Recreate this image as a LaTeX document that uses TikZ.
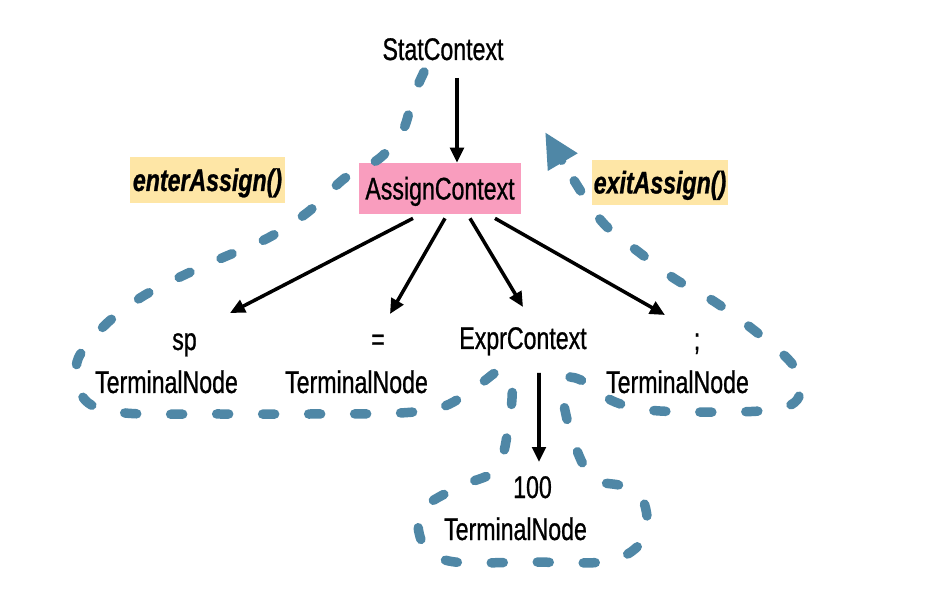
\documentclass[tikz,border=0pt]{standalone}
\usepackage{fontspec}
\setmainfont[FakeStretch=0.74,FakeBold=0.8]{Liberation Sans}
\usetikzlibrary{arrows.meta}
\definecolor{loopblue}{HTML}{4F87A6}
\definecolor{boxpink}{HTML}{F99DBE}
\definecolor{boxyellow}{HTML}{FEE6A6}
\newcommand{\lblfont}{\fontsize{17.8pt}{20pt}\selectfont}
\begin{document}
\begin{tikzpicture}[x=0.02cm,y=-0.02cm,
  lbl/.style={font=\lblfont, inner sep=0pt, anchor=base},
  cbox/.style={font=\lblfont, inner sep=0pt, text height=0.44cm, text depth=0pt},
  callbox/.style={font=\lblfont\bfseries\itshape, fill=boxyellow, inner sep=0pt, text height=0.44cm, text depth=0pt},
  arr/.style={draw=black, line width=2pt, -{Triangle[length=0.3cm,width=0.27cm]}},
  walk/.style={draw=loopblue, line width=0.19cm, line cap=round, dash pattern=on 0.24cm off 0.68cm,
    -{Triangle[length=0.7cm,width=0.64cm]}}]
\useasboundingbox (0,0) rectangle (950,594);

% nodes
\node[lbl] (stat) at (443,60) {StatContext};
\node[cbox, fill=boxpink, minimum width=3.24cm, minimum height=1.02cm] (assign) at (440,188.5) {AssignContext};
\node[callbox, minimum width=3.1cm, minimum height=0.92cm] (enter) at (207.5,180) {enterAssign()};
\node[callbox, minimum width=2.72cm, minimum height=0.9cm] (exit) at (660,182.5) {exitAssign()};

\node[lbl] (sp) at (184.5,350) {sp};
\node[lbl] (spT) at (166.5,393) {TerminalNode};
\node[lbl] (eq) at (378,350) {=};
\node[lbl] (eqT) at (356.5,393) {TerminalNode};
\node[lbl] (expr) at (523,349) {ExprContext};
\node[lbl] (semi) at (697,350) {;};
\node[lbl] (semiT) at (677.5,393) {TerminalNode};
\node[lbl] (hundred) at (532.5,498) {100};
\node[lbl] (hundredT) at (515.5,540) {TerminalNode};

% tree edges
\draw[arr] ([shift={(14,18)}]stat.base) -- ([shift={(17,0)}]assign.north);
\draw[arr] ([shift={(-27,4)}]assign.south) -- ([shift={(45.5,-37)}]sp.base);
\draw[arr] ([shift={(5,4)}]assign.south) -- ([shift={(12,-36)}]eq.base);
\draw[arr] ([shift={(30,4)}]assign.south) -- ([shift={(0,-42)}]expr.base);
\draw[arr] ([shift={(55,4)}]assign.south) -- ([shift={(-32,-35)}]semi.base);
\draw[arr] ([shift={(16,24)}]expr.base) -- ([shift={(6.5,-36)}]hundred.base);

% depth-first walk
\draw[walk] plot[smooth, tension=0.55] coordinates {
 (424,72) (413,97) (403,130) (380,158) (345,178) (308,212) (268,238) (222,258)
 (180,277) (140,298) (103,327) (77,362) (85,400) (125,413) (220,414) (310,414)
 (400,413) (445,406) (480,384) (500,371) (512,385) (508,430) (496,470) (458,487)
 (420,512) (425,548) (455,562) (530,562) (610,561) (645,537) (643,500) (622,486)
 (592,478) (573,440) (563,398) (567,378) (585,382) (615,402) (660,411) (760,411)
 (797,400) (795,368) (760,335) (715,302) (675,279) (640,253) (605,225) (580,190)
 (545,132)};
\end{tikzpicture}
\end{document}
